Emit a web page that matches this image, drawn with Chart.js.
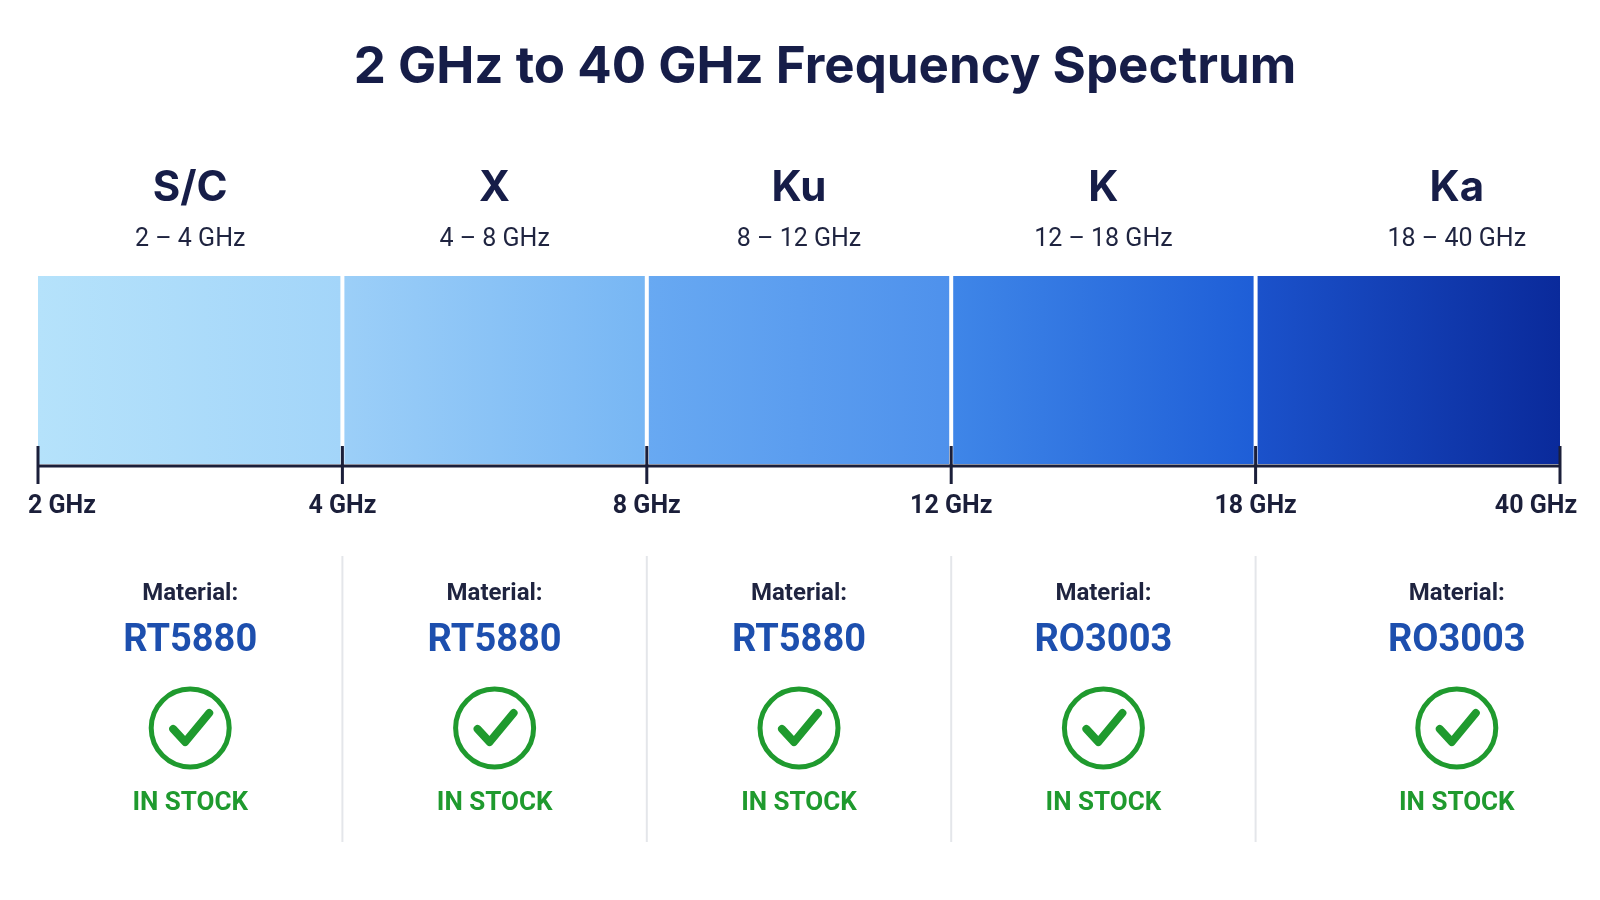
<!DOCTYPE html>
<html>
<head>
<meta charset="utf-8">
<script src="https://cdn.jsdelivr.net/npm/chart.js@4"></script>
<style>
  html, body { margin: 0; padding: 0; background: #ffffff; }
  #wrap { width: 1600px; height: 900px; position: relative; }
</style>
</head>
<body>
<div id="wrap"><canvas id="spectrum" width="1600" height="900"></canvas></div>
<script>
var title = '2 GHz to 40 GHz Frequency Spectrum';
var bands = ['S/C', 'X', 'Ku', 'K', 'Ka'];
var ranges = ['2 – 4 GHz', '4 – 8 GHz', '8 – 12 GHz', '12 – 18 GHz', '18 – 40 GHz'];
var tickLabels = ['2 GHz', '4 GHz', '8 GHz', '12 GHz', '18 GHz', '40 GHz'];
var materials = ['RT5880', 'RT5880', 'RT5880', 'RO3003', 'RO3003'];
var stock = ['IN STOCK', 'IN STOCK', 'IN STOCK', 'IN STOCK', 'IN STOCK'];
// each band drawn as an equal-width segment
var widths = [1, 1, 1, 1, 1];
var gradStops = [
  ['#b5e2fb', '#a3d5f9'],
  ['#9ccff8', '#77b6f4'],
  ['#68a9f2', '#4e91ec'],
  ['#3f86e8', '#1e5ed7'],
  ['#1b52cb', '#0a2a9b']
];

var NAVY = '#161d48';
var BLUE = '#1d4fae';
var GREEN = '#1f9a2e';
var NARROW = '"Liberation Sans Narrow", Roboto, sans-serif';

var datasets = bands.map(function (b, i) {
  return {
    label: b,
    data: [widths[i]],
    backgroundColor: function (ctx) {
      var area = ctx.chart.chartArea;
      if (!area) return gradStops[i][0];
      var x = ctx.chart.scales.x;
      var x0 = x.getPixelForValue(i), x1 = x.getPixelForValue(i + 1);
      var g = ctx.chart.ctx.createLinearGradient(x0, 0, x1, 0);
      g.addColorStop(0, gradStops[i][0]);
      g.addColorStop(1, gradStops[i][1]);
      return g;
    },
    borderWidth: 0,
    barPercentage: 1,
    categoryPercentage: 1
  };
});

var decor = {
  id: 'decor',
  afterDatasetsDraw: function (chart) {
    var c = chart.ctx, x = chart.scales.x, area = chart.chartArea;
    c.save();
    c.textAlign = 'center';
    c.textBaseline = 'middle';
    // title
    c.fillStyle = NAVY;
    c.font = 'bold 51px Inter, "DejaVu Sans", sans-serif';
    c.fillText(title, 825, 68);
    // white separators
    c.strokeStyle = '#ffffff';
    c.lineWidth = 4;
    for (var i = 1; i < bands.length; i++) {
      var px = x.getPixelForValue(i);
      c.beginPath(); c.moveTo(px, area.top); c.lineTo(px, area.bottom); c.stroke();
    }
    // axis line and ticks
    var ay = area.bottom + 2;
    c.strokeStyle = '#1b1f3a';
    c.lineWidth = 3;
    c.beginPath(); c.moveTo(x.getPixelForValue(0), ay); c.lineTo(x.getPixelForValue(5), ay); c.stroke();
    c.font = 'bold 25px ' + NARROW;
    c.fillStyle = '#1b1f3a';
    for (var t = 0; t < tickLabels.length; t++) {
      var tx = x.getPixelForValue(t);
      c.beginPath(); c.moveTo(tx, ay - 20); c.lineTo(tx, ay + 18); c.stroke();
      var lx = tx;
      if (t === 0) lx = tx + 24;
      if (t === tickLabels.length - 1) lx = tx - 24;
      c.fillText(tickLabels[t], lx, 507);
    }
    // per-band text and stock cards
    for (var k = 0; k < bands.length; k++) {
      var cx = (x.getPixelForValue(k) + x.getPixelForValue(k + 1)) / 2;
      if (k === 4) cx += 49;
      c.fillStyle = NAVY;
      c.font = 'bold 42px Inter, "DejaVu Sans", sans-serif';
      c.fillText(bands[k], cx, 188);
      c.font = '25px ' + NARROW;
      c.fillStyle = '#1f2440';
      c.fillText(ranges[k], cx, 240);
      c.font = 'bold 24px ' + NARROW;
      c.fillStyle = '#1f2440';
      c.fillText('Material:', cx, 594);
      c.font = 'bold 38px ' + NARROW;
      c.fillStyle = BLUE;
      c.fillText(materials[k], cx, 641);
      // check circle
      c.strokeStyle = GREEN;
      c.lineWidth = 5;
      c.beginPath(); c.arc(cx, 728, 39, 0, Math.PI * 2); c.stroke();
      c.lineWidth = 8;
      c.lineCap = 'round';
      c.lineJoin = 'round';
      c.beginPath();
      c.moveTo(cx - 17, 729); c.lineTo(cx - 5, 742); c.lineTo(cx + 19, 713);
      c.stroke();
      c.lineCap = 'butt';
      c.font = 'bold 26px ' + NARROW;
      c.fillStyle = GREEN;
      c.fillText(stock[k], cx, 803);
      if (k > 0) {
        var dx = x.getPixelForValue(k);
        c.strokeStyle = '#e4e6ea';
        c.lineWidth = 2;
        c.beginPath(); c.moveTo(dx, 556); c.lineTo(dx, 842); c.stroke();
      }
    }
    c.restore();
  }
};

new Chart(document.getElementById('spectrum'), {
  type: 'bar',
  data: { labels: ['band'], datasets: datasets },
  options: {
    indexAxis: 'y',
    responsive: false,
    animation: false,
    layout: { padding: { left: 38, right: 40, top: 276, bottom: 436 } },
    scales: {
      x: { stacked: true, min: 0, max: 5, display: false },
      y: { stacked: true, display: false }
    },
    plugins: { legend: { display: false }, tooltip: { enabled: false } }
  },
  plugins: [decor]
});
</script>
</body>
</html>
